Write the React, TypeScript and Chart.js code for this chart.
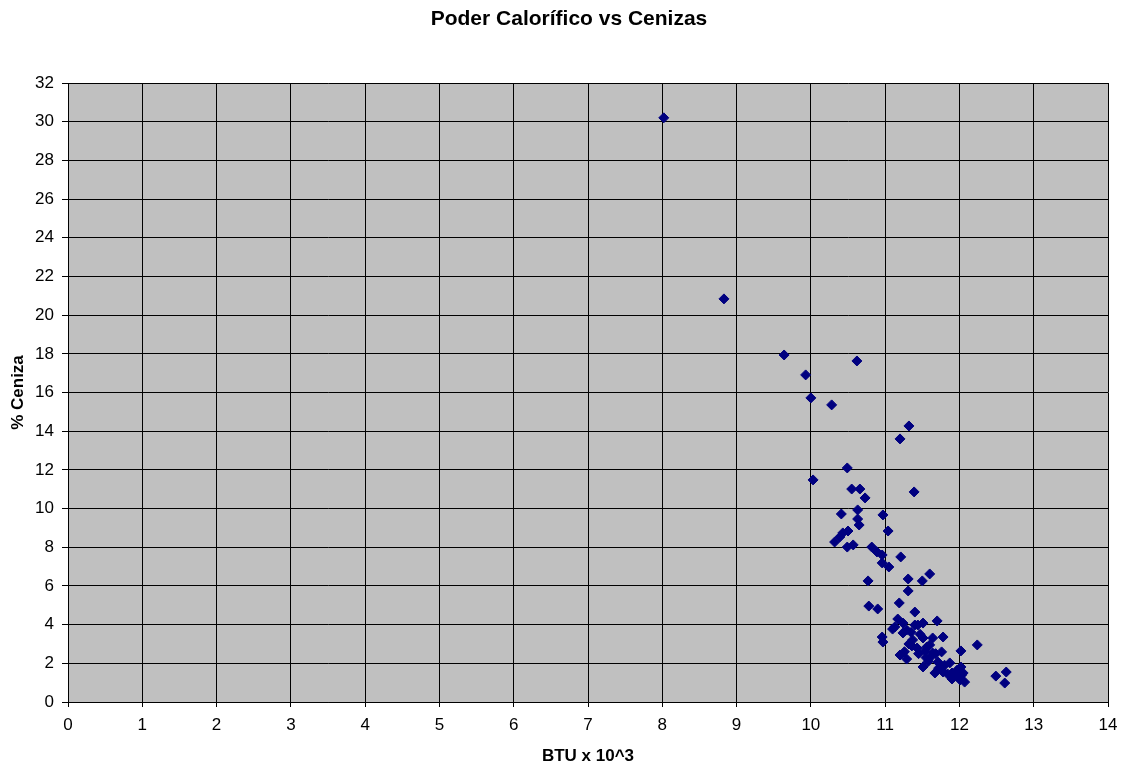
import React, { useEffect, useRef } from "react";
import { Chart, registerables } from "chart.js";

Chart.register(...registerables);

const chartTitle = "Poder Calorífico vs Cenizas";
const xAxisTitle = "BTU x 10^3";
const yAxisTitle = "% Ceniza";

// BTU x 10^3
const btu: number[] = [
  8.02, 8.83, 9.64, 9.93, 10.62, 10.0, 10.28, 10.03, 11.32, 11.2,
  10.49, 11.39, 10.55, 10.66, 10.73, 10.41, 10.63, 10.97, 10.63, 10.65,
  11.04, 10.5, 10.43, 10.39, 10.32, 10.49, 10.57, 10.82, 10.89, 10.96,
  10.96, 11.05, 11.21, 10.77, 11.31, 11.5, 11.6, 11.31, 11.19, 10.78,
  10.9, 11.4, 11.7, 11.17, 11.1, 10.96, 10.97, 11.24, 11.29, 11.44,
  11.51, 11.13, 11.4, 11.24, 11.37, 11.32, 11.51, 11.64, 11.78, 11.6,
  11.54, 11.64, 11.76, 11.43, 11.56, 11.2, 11.29, 11.6, 11.71, 11.87,
  11.51, 11.67, 11.78, 11.9, 11.97, 12.03, 11.9, 12.01, 12.07, 12.02,
  12.24, 12.49, 12.63, 12.61, 12.02, 12.05, 11.35, 11.47, 11.68, 11.8,
  11.58, 11.45, 11.26, 11.84, 11.93, 11.72, 11.55, 11.36,
];

// % Ceniza
const ceniza: number[] = [
  30.2, 20.84, 17.94, 16.91, 17.63, 15.72, 15.36, 11.48, 14.27, 13.6,
  12.1, 10.86, 11.01, 11.01, 10.55, 9.72, 9.93, 9.67, 9.46, 9.15,
  8.84, 8.84, 8.74, 8.53, 8.27, 8.01, 8.12, 8.01, 7.76, 7.6,
  7.19, 6.98, 7.5, 6.26, 6.36, 6.26, 6.62, 5.74, 5.12, 4.96,
  4.81, 4.65, 4.19, 4.29, 3.77, 3.36, 3.1, 4.08, 3.72, 3.98,
  4.08, 3.88, 3.98, 3.57, 3.21, 3.0, 3.31, 3.31, 3.36, 2.95,
  2.64, 2.53, 2.59, 2.79, 2.84, 2.43, 2.22, 2.28, 2.07, 2.02,
  1.81, 1.5, 1.55, 1.5, 1.65, 1.4, 1.19, 1.14, 1.03, 2.64,
  2.95, 1.34, 1.55, 0.98, 1.81, 1.5, 3.6, 3.5, 2.5, 1.9,
  2.1, 2.5, 2.6, 1.45, 1.3, 1.75, 2.3, 2.9,
];

const xTicks: number[] = [0, 1, 2, 3, 4, 5, 6, 7, 8, 9, 10, 11, 12, 13, 14];
const yTicks: number[] = [0, 2, 4, 6, 8, 10, 12, 14, 16, 18, 20, 22, 24, 26, 28, 30, 32];

const FONT = "'Liberation Sans', Arial, sans-serif";

const plotBackground = {
  id: "plotBackground",
  beforeDraw(chart: any) {
    const { ctx, chartArea } = chart;
    ctx.save();
    ctx.fillStyle = "#C0C0C0";
    ctx.fillRect(chartArea.left, chartArea.top, chartArea.right - chartArea.left, chartArea.bottom - chartArea.top);
    ctx.restore();
  },
};

const titlePlugin = {
  id: "customTitle",
  afterDraw(chart: any) {
    const { ctx } = chart;
    ctx.save();
    ctx.fillStyle = "#000";
    ctx.font = `bold 21px ${FONT}`;
    ctx.textAlign = "center";
    ctx.textBaseline = "middle";
    ctx.fillText(chartTitle, 569, 19);
    ctx.restore();
  },
};

export default function App() {
  const canvasRef = useRef<HTMLCanvasElement | null>(null);

  useEffect(() => {
    document.body.style.margin = "0";
    const canvas = canvasRef.current;
    if (!canvas) return;
    const points = btu.map((x, i) => ({ x, y: ceniza[i] }));
    const chart = new Chart(canvas, {
      type: "scatter",
      data: {
        datasets: [
          {
            label: "Ceniza",
            data: points,
            backgroundColor: "#000080",
            borderColor: "#000080",
            borderWidth: 1,
            pointStyle: "rectRot",
            pointRadius: 5,
            pointHoverRadius: 5,
          },
        ],
      },
      options: {
        animation: false,
        responsive: false,
        maintainAspectRatio: false,
        layout: { padding: { left: 0, right: 19, top: 83, bottom: 0 } },
        plugins: {
          legend: { display: false },
          tooltip: { enabled: false },
          title: { display: false },
        },
        scales: {
          x: {
            type: "linear",
            min: xTicks[0],
            max: xTicks[xTicks.length - 1],
            afterBuildTicks(scale: any) {
              scale.ticks = xTicks.map((v) => ({ value: v }));
            },
            afterFit(scale: any) {
              scale.height = 63;
            },
            ticks: {
              color: "#000",
              font: { family: FONT, size: 17 },
              padding: 8,
              maxRotation: 0,
              autoSkip: false,
            },
            grid: { color: "#000", lineWidth: 1, tickLength: 5, drawTicks: true },
            border: { color: "#000", width: 1 },
            title: {
              display: true,
              text: xAxisTitle,
              color: "#000",
              font: { family: FONT, size: 17, weight: "bold", lineHeight: 1 },
              padding: { top: 0, bottom: 0 },
            },
          },
          y: {
            type: "linear",
            min: yTicks[0],
            max: yTicks[yTicks.length - 1],
            afterBuildTicks(scale: any) {
              scale.ticks = yTicks.map((v) => ({ value: v }));
            },
            afterFit(scale: any) {
              scale.width = 68;
            },
            ticks: {
              color: "#000",
              font: { family: FONT, size: 17 },
              padding: 8,
              autoSkip: false,
            },
            grid: { color: "#000", lineWidth: 1, tickLength: 6, drawTicks: true },
            border: { color: "#000", width: 1 },
            title: {
              display: true,
              text: yAxisTitle,
              color: "#000",
              font: { family: FONT, size: 17, weight: "bold", lineHeight: 1 },
              padding: { top: 9.5, bottom: 0 },
            },
          },
        },
      },
      plugins: [plotBackground, titlePlugin],
    });
    return () => chart.destroy();
  }, []);

  return (
    <div style={{ position: "absolute", left: 0, top: 0, width: 1127, height: 765 }}>
      <canvas ref={canvasRef} width={1127} height={765} style={{ display: "block" }} />
    </div>
  );
}
